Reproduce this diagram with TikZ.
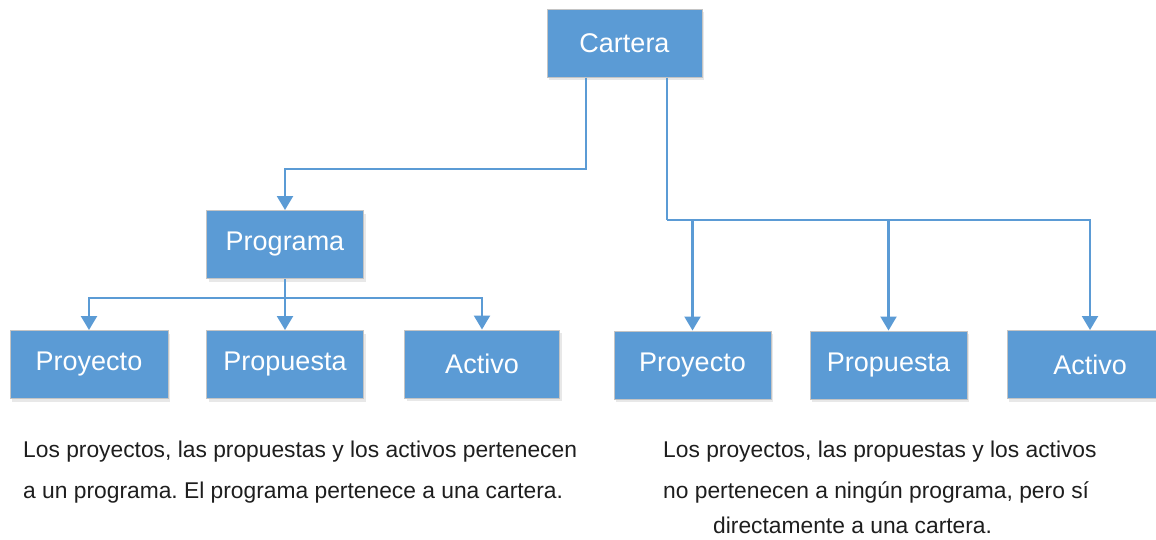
\documentclass[tikz,border=0pt]{standalone}
\usepackage{fontspec}
\setmainfont{Liberation Sans}
\usetikzlibrary{arrows.meta,shadows}
\definecolor{boxblue}{HTML}{5B9BD5}
\definecolor{boxedge}{HTML}{C4C4C4}
\definecolor{captxt}{HTML}{1E1E1E}
\frenchspacing
\begin{document}
\begin{tikzpicture}[x=1pt,y=-1pt,
  box/.style={draw=boxedge, line width=1pt, fill=boxblue, text=white,
    minimum width=157pt, minimum height=68pt, inner sep=0pt,
    font=\fontsize{27}{32}\selectfont,
    drop shadow={opacity=0.18, shadow xshift=2pt, shadow yshift=-3pt}},
  conn/.style={draw=boxblue, line width=2.2pt},
  arr/.style={conn, -{Triangle[width=16pt,length=14pt]}},
  captext/.style={anchor=base west, text=captxt, inner sep=0pt,
    font=\fontsize{22.8}{27}\selectfont\frenchspacing}]
\useasboundingbox (0,0) rectangle (1156,539);
\fill[white] (0,0) rectangle (1156,539);
% nodes
\node[box, minimum width=155pt] (cartera) at (624.5,43) {Cartera};
\node[box] (prog) at (285,244.5) {Programa};
\node[box, minimum width=158pt] (lproy) at (89,364.5) {Proyecto};
\node[box] (lprop) at (285,364.5) {Propuesta};
\node[box, minimum width=155pt] (lact) at (482,364) {Activo};
\node[box] (rproy) at (692.5,365) {Proyecto};
\node[box] (rprop) at (888.5,365) {Propuesta};
\node[box, minimum width=166pt] (ract) at (1090,364.5) {Activo};
% junctions
\coordinate (j1) at (586,169);
\coordinate (bus) at (285,298);
\coordinate (j2) at (667,220);
% Cartera -> Programa
\draw[arr] ([xshift=-38.5pt]cartera.south) -- (j1) -| (prog.north);
% Programa -> children
\draw[conn] (prog.south) -- (bus);
\draw[arr] (bus) -| (lproy.north);
\draw[arr] (bus) -- (lprop.north);
\draw[arr] (bus) -| (lact.north);
% Cartera -> direct children
\draw[conn] ([xshift=42.5pt]cartera.south) -- (j2);
\draw[arr] (j2) -| (rproy.north);
\draw[arr] (j2) -| (rprop.north);
\draw[arr] (j2) -| (ract.north);
% captions
\node[captext] (c1) at (23,457) {Los proyectos, las propuestas y los activos pertenecen};
\node[captext] (c2) at (23,498) {a un programa. El programa pertenece a una cartera.};
\node[captext] (c3) at (663,457) {Los proyectos, las propuestas y los activos};
\node[captext] (c4) at (663,498) {no pertenecen a ningún programa, pero sí};
\node[captext] (c5) at (713,533) {directamente a una cartera.};
\end{tikzpicture}
\end{document}
